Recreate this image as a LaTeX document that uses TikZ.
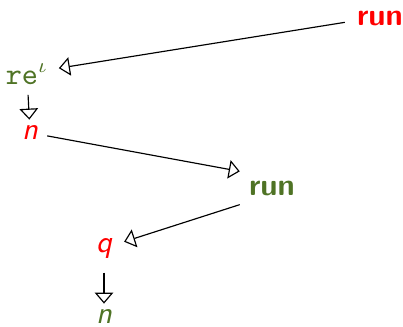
\documentclass[tikz,border=0pt]{standalone}
\usepackage{amsmath,amssymb}
\usepackage{xcolor}
\usepackage{tikz}
\usetikzlibrary{arrows.meta}
\renewcommand{\familydefault}{\sfdefault}
\definecolor{redrun}{HTML}{FF0000}
\definecolor{oliverun}{HTML}{4F7325}

\begin{document}
\begin{tikzpicture}[x=0.345pt,y=-0.345pt,
    font=\fontsize{10.6pt}{12pt}\selectfont,
    lab/.style={inner sep=2pt},
    redlab/.style={lab,text=redrun},
    greenlab/.style={lab,text=oliverun},
    boldlab/.style={font=\fontsize{10.6pt}{12pt}\selectfont\bfseries},
    arr/.style={-{Triangle[open,length=3.8pt,width=6.4pt]},line width=0.4pt}]
  \useasboundingbox (0,0) rectangle (403,327);
  % labels
  \node[redlab,boldlab] (runtop) at (380,18) {run};
  \node[greenlab] (reiota) at (27,74) {\texttt{re}$^{\iota}$};
  \node[redlab] (nfirst) at (30,133) {\itshape n};
  \node[greenlab,boldlab] (runmid) at (272,188) {run};
  \node[redlab] (qnode) at (104,249) {\itshape q};
  \node[greenlab] (nlast) at (104,317) {\itshape n};
  % connectors
  \draw[arr] ([xshift=-2pt,yshift=-1.5pt]runtop.west) -- ([xshift=1.5pt,yshift=2pt]reiota.east);
  \draw[arr,shorten <=1.5pt] (reiota) -- (nfirst);
  \draw[arr] ([xshift=1pt,yshift=-1pt]nfirst.east) -- ([xshift=-1pt,yshift=1pt]runmid.north west);
  \draw[arr] ([xshift=-1pt,yshift=-1pt]runmid.south west) -- ([xshift=2pt,yshift=2.5pt]qnode.east);
  \draw[arr,shorten <=2.5pt] (qnode) -- (nlast);
\end{tikzpicture}
\end{document}
